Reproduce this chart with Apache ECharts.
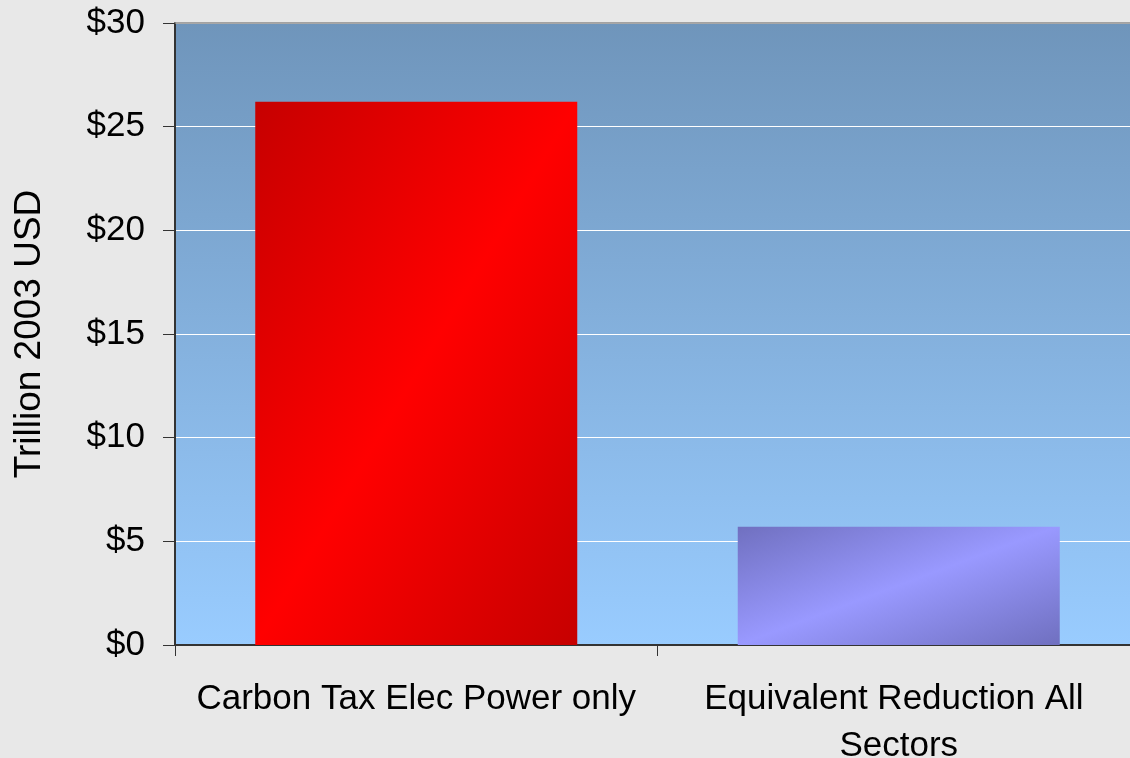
<!DOCTYPE html>
<html>
<head>
<meta charset="utf-8">
<script src="https://cdn.jsdelivr.net/npm/echarts@6/dist/echarts.min.js"></script>
<style>
  html, body { margin: 0; padding: 0; background: #e8e8e8; }
  #chart { width: 1130px; height: 758px; }
</style>
</head>
<body>
<div id="chart"></div>
<script>
// Cumulative cost of two carbon-reduction policies
const categories = ['Carbon Tax Elec Power only', 'Equivalent Reduction All Sectors'];
const costs = [26.2, 5.7];           // trillion 2003 USD
const yMin = 0, yMax = 30, yStep = 5;
const yTitle = 'Trillion 2003 USD';

const FONT = '"Liberation Sans", Arial, sans-serif';

// Diagonal sheen: dark corners top-left / bottom-right, bright along the anti-diagonal
function sheen(dark, light, x2, y2) {
  return new echarts.graphic.LinearGradient(0, 0, x2, y2, [
    { offset: 0, color: dark },
    { offset: 0.5, color: light },
    { offset: 1, color: dark }
  ]);
}
const barStyles = [
  sheen('#c60000', '#ff0000', 1.48, 0.52),
  sheen('#7070c0', '#9999ff', 0.24, 1.76)
];

const chart = echarts.init(document.getElementById('chart'), null, { renderer: 'canvas' });
chart.setOption({
  backgroundColor: '#e8e8e8',
  animation: false,
  grid: {
    left: 175, top: 23, right: -10, bottom: 113,
    outerBoundsMode: 'none',
    containLabel: false,
    show: true,
    borderWidth: 0,
    backgroundColor: new echarts.graphic.LinearGradient(0, 0, 0, 1, [
      { offset: 0, color: '#6f95bb' },
      { offset: 1, color: '#99ccff' }
    ])
  },
  xAxis: [{
    type: 'category',
    data: categories,
    axisLine: { lineStyle: { color: '#333333', width: 2 } },
    axisTick: { show: true, length: 11, lineStyle: { color: '#333333', width: 1 } },
    axisLabel: {
      interval: 0,
      color: '#000',
      fontFamily: FONT,
      fontSize: 35,
      lineHeight: 47,
      margin: 31,
      width: 460,
      overflow: 'break'
    },
    splitLine: { show: false }
  }, {
    type: 'category',
    position: 'top',
    data: categories,
    axisLine: { lineStyle: { color: '#8a8a8a', width: 1.5 } },
    axisTick: { show: false },
    axisLabel: { show: false }
  }],
  yAxis: {
    type: 'value',
    min: yMin, max: yMax, interval: yStep,
    name: yTitle,
    nameLocation: 'middle',
    nameGap: 127,
    nameRotate: 90,
    nameTextStyle: { color: '#000', fontFamily: FONT, fontSize: 37 },
    axisLine: { show: true, lineStyle: { color: '#333333', width: 2 } },
    axisTick: { show: true, length: 12, lineStyle: { color: '#333333', width: 1 } },
    axisLabel: {
      color: '#000',
      fontFamily: FONT,
      fontSize: 35,
      margin: 30,
      formatter: v => '$' + v
    },
    splitLine: { show: true, lineStyle: { color: '#ffffff', width: 1 } }
  },
  series: [{
    type: 'bar',
    barWidth: 322,
    data: costs.map((v, i) => ({ value: v, itemStyle: { color: barStyles[i] } }))
  }]
});
</script>
</body>
</html>
